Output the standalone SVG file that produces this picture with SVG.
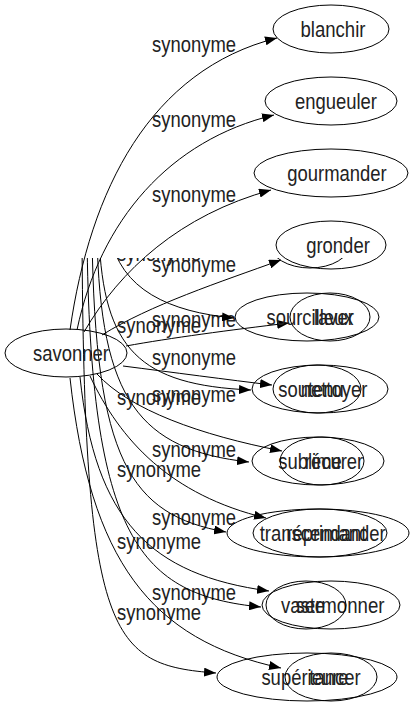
<svg xmlns="http://www.w3.org/2000/svg" width="415" height="707" viewBox="0 0 415 707">
<defs>
<marker id="arr" markerUnits="userSpaceOnUse" markerWidth="12" markerHeight="9" refX="12" refY="4.5" orient="auto" viewBox="0 0 12 9">
<path d="M0,0 L12,4.5 L0,9 z" fill="#000"/>
</marker>
<clipPath id="clipB"><rect x="0" y="258" width="415" height="449"/></clipPath>
<style>
.n ellipse{fill:none;stroke:#000;stroke-width:1}
.e path{fill:none;stroke:#000;stroke-width:1;marker-end:url(#arr)}
text{font-family:"Liberation Sans Narrow","Liberation Sans",Arial,sans-serif;font-size:22.5px;fill:#222}
.n text{text-anchor:middle}
</style>
</defs>
<rect width="415" height="707" fill="#fff"/>
<g id="edges-a" class="e">
<path d="M70,330 C90,190 150,70 277,38"/>
<path d="M77,330 C100,220 170,140 274,115"/>
<path d="M84,332 C120,270 180,215 271,190"/>
<path d="M102,335 C150,305 220,282 281,260"/>
<path d="M126,346 C170,338 230,330 289,323"/>
<path d="M123,366 C170,372 230,380 272,385"/>
<path d="M97,374 C130,410 200,435 282,451"/>
<path d="M90,376 C120,440 170,495 266,518"/>
<path d="M80,377 C95,520 150,575 269,591"/>
<path d="M70,378 C90,560 150,640 281,668"/>
<text x="152" y="52" textLength="84" lengthAdjust="spacingAndGlyphs">synonyme</text>
<text x="152" y="127" textLength="84" lengthAdjust="spacingAndGlyphs">synonyme</text>
<text x="152" y="202" textLength="84" lengthAdjust="spacingAndGlyphs">synonyme</text>
<text x="152" y="272" textLength="84" lengthAdjust="spacingAndGlyphs">synonyme</text>
<text x="152" y="327" textLength="84" lengthAdjust="spacingAndGlyphs">synonyme</text>
<text x="152" y="365" textLength="84" lengthAdjust="spacingAndGlyphs">synonyme</text>
<text x="152" y="402" textLength="84" lengthAdjust="spacingAndGlyphs">synonyme</text>
<text x="152" y="457" textLength="84" lengthAdjust="spacingAndGlyphs">synonyme</text>
<text x="152" y="525" textLength="84" lengthAdjust="spacingAndGlyphs">synonyme</text>
<text x="152" y="600" textLength="84" lengthAdjust="spacingAndGlyphs">synonyme</text>
</g>
<g id="edges-b" class="e" clip-path="url(#clipB)">
<path d="M110,235 C120,290 170,312 234,318"/>
<path d="M99,235 C103,350 140,385 251,390"/>
<path d="M97,235 C100,400 140,450 249,462"/>
<path d="M92,235 C95,460 130,515 226,532"/>
<path d="M87,235 C90,540 140,595 261,607"/>
<path d="M82,235 C84,640 110,665 216,673"/>
<text x="117" y="261" textLength="84" lengthAdjust="spacingAndGlyphs">synonyme</text>
<text x="117" y="333" textLength="84" lengthAdjust="spacingAndGlyphs">synonyme</text>
<text x="117" y="405" textLength="84" lengthAdjust="spacingAndGlyphs">synonyme</text>
<text x="117" y="477" textLength="84" lengthAdjust="spacingAndGlyphs">synonyme</text>
<text x="117" y="549" textLength="84" lengthAdjust="spacingAndGlyphs">synonyme</text>
<text x="117" y="620" textLength="84" lengthAdjust="spacingAndGlyphs">synonyme</text>
</g>
<g id="node-savonner" class="n"><ellipse cx="66" cy="353" rx="61" ry="24"/><text x="71" y="361" textLength="76" lengthAdjust="spacingAndGlyphs">savonner</text></g>
<g id="node-blanchir" class="n"><ellipse cx="331" cy="29" rx="58" ry="24"/><text x="333" y="36.5" textLength="65" lengthAdjust="spacingAndGlyphs">blanchir</text></g>
<g id="node-engueuler" class="n"><ellipse cx="331" cy="101" rx="66" ry="24"/><text x="336" y="108.5" textLength="82" lengthAdjust="spacingAndGlyphs">engueuler</text></g>
<g id="node-gourmander" class="n"><ellipse cx="331" cy="173" rx="77" ry="24"/><text x="337" y="180.5" textLength="99.5" lengthAdjust="spacingAndGlyphs">gourmander</text></g>
<g id="node-gronder" class="n"><ellipse cx="331" cy="245" rx="55" ry="24"/><text x="338" y="252.5" textLength="63.6" lengthAdjust="spacingAndGlyphs">gronder</text></g>
<g id="node-hidden" class="n" clip-path="url(#clipB)"><ellipse cx="310" cy="244" rx="40" ry="24"/></g>
<g id="node-sourcilleux" class="n"><ellipse cx="307" cy="317" rx="72" ry="24"/><text x="310" y="324.5" textLength="87" lengthAdjust="spacingAndGlyphs">sourcilleux</text></g>
<g id="node-laver" class="n"><ellipse cx="330" cy="317" rx="40" ry="24"/><text x="334" y="324.5" textLength="40" lengthAdjust="spacingAndGlyphs">laver</text></g>
<g id="node-soutenu" class="n"><ellipse cx="320" cy="389" rx="68" ry="24"/><text x="311" y="396.5" textLength="65.6" lengthAdjust="spacingAndGlyphs">soutenu</text></g>
<g id="node-nettoyer" class="n"><ellipse cx="317" cy="389" rx="44" ry="24"/><text x="334" y="396.5" textLength="66.7" lengthAdjust="spacingAndGlyphs">nettoyer</text></g>
<g id="node-sublime" class="n"><ellipse cx="318" cy="461" rx="66" ry="24"/><text x="310" y="468.5" textLength="63.6" lengthAdjust="spacingAndGlyphs">sublime</text></g>
<g id="node-recurer" class="n"><ellipse cx="322" cy="461" rx="42" ry="24"/><text x="334" y="468.5" textLength="58.4" lengthAdjust="spacingAndGlyphs">récurer</text></g>
<g id="node-transcendant" class="n"><ellipse cx="318" cy="533" rx="91" ry="24"/><text x="313" y="540.5" textLength="106.7" lengthAdjust="spacingAndGlyphs">transcendant</text></g>
<g id="node-reprimander" class="n"><ellipse cx="320" cy="533" rx="67" ry="24"/><text x="336" y="540.5" textLength="99.4" lengthAdjust="spacingAndGlyphs">réprimander</text></g>
<g id="node-sermonner" class="n"><ellipse cx="331" cy="605" rx="69" ry="24"/><text x="340" y="612.5" textLength="89.1" lengthAdjust="spacingAndGlyphs">sermonner</text></g>
<g id="node-vaste" class="n"><ellipse cx="306" cy="605" rx="40" ry="24"/><text x="303" y="612.5" textLength="44.1" lengthAdjust="spacingAndGlyphs">vaste</text></g>
<g id="node-superieure" class="n"><ellipse cx="307" cy="677" rx="90" ry="24"/><text x="305" y="684.5" textLength="87.2" lengthAdjust="spacingAndGlyphs">supérieure</text></g>
<g id="node-tancer" class="n"><ellipse cx="331" cy="677" rx="46" ry="24"/><text x="335" y="684.5" textLength="51.3" lengthAdjust="spacingAndGlyphs">tancer</text></g>
</svg>
